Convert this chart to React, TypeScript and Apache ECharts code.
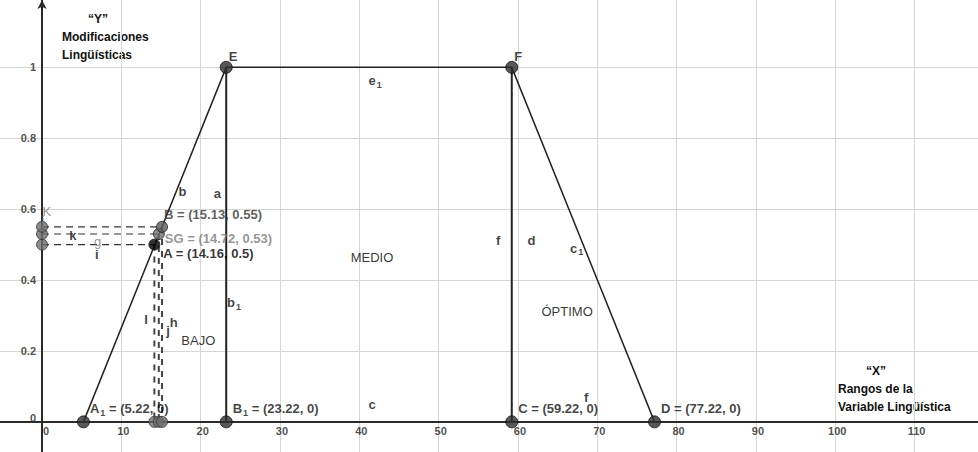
import React, { useEffect, useRef } from "react";
import * as echarts from "echarts";

// Trapezoid membership function (MEDIO) vertices
const trapezoidX = [5.22, 23.22, 59.22, 77.22];
const trapezoidY = [0, 1, 1, 0];

// Vertical segments E-B1 and F-C
const verticalX = [23.22, 59.22];
const verticalTop = [1, 1];

// Named vertices
const vertexNames = ["A1", "B1", "C", "D", "E", "F"];
const vertexX = [5.22, 23.22, 59.22, 77.22, 23.22, 59.22];
const vertexY = [0, 0, 0, 0, 1, 1];

// Evaluated points
const fuzzyNames = ["A", "SG", "B"];
const fuzzyX = [14.16, 14.72, 15.13];
const fuzzyY = [0.5, 0.53, 0.55];

// Segment / object labels
const segNames = ["e1", "b", "a", "b1", "f", "d", "c1", "c", "f", "I", "j", "h", "k", "i"];
const segX = [42.0, 17.7, 22.1, 24.2, 57.5, 61.7, 67.4, 41.6, 68.6, 13.1, 15.9, 16.6, 3.9, 6.9];
const segY = [0.962, 0.65, 0.644, 0.336, 0.511, 0.511, 0.49, 0.048, 0.07, 0.288, 0.258, 0.28, 0.527, 0.472];

const faintNames = ["K", "j", "g"];
const faintX = [0.6, 0.1, 7.0];
const faintY = [0.594, 0.567, 0.51];

// Region names
const regionNames = ["BAJO", "MEDIO", "ÓPTIMO"];
const regionX = [19.7, 41.6, 66.2];
const regionY = [0.229, 0.463, 0.311];

// Tick labels
const xTickValues = [0, 10, 20, 30, 40, 50, 60, 70, 80, 90, 100, 110];
const yTickValues = [0, 0.2, 0.4, 0.6, 0.8, 1];
const yTickLabels = ["0", "0.2", "0.4", "0.6", "0.8", "1"];

const FONT = "'Liberation Sans', Arial, sans-serif";

function richName(name: string): string {
  const m = name.match(/^([A-Za-z]+)(\d)$/);
  return m ? `{t|${m[1]}}{s|${m[2]}}` : `{t|${name}}`;
}

export default function App() {
  const ref = useRef<HTMLDivElement>(null);
  useEffect(() => {
    if (!ref.current) return;
    const chart = echarts.init(ref.current, null, { renderer: "svg" });

    const dashH = fuzzyX.map((x, i) => ({
      type: "line",
      data: [[0, fuzzyY[i]], [x, fuzzyY[i]]],
      symbol: "none",
      lineStyle: { color: "#333", width: 1.2, type: [7, 5] },
      z: 3,
      silent: true,
    }));
    const dashV = fuzzyX.map((x, i) => ({
      type: "line",
      data: [[x, fuzzyY[i]], [x, 0]],
      symbol: "none",
      lineStyle: { color: "#444", width: 2, type: [6, 6] },
      z: 3,
      silent: true,
    }));
    const verticals = verticalX.map((x, i) => ({
      type: "line",
      data: [[x, verticalTop[i]], [x, 0]],
      symbol: "none",
      lineStyle: { color: "#222", width: 2 },
      z: 4,
      silent: true,
    }));

    const richBase = (color: string, size: number) => ({
      t: { fontSize: size, fontWeight: "bold", color, fontFamily: FONT, lineHeight: 17 },
      s: { fontSize: 9, fontWeight: "bold", color, fontFamily: FONT, verticalAlign: "bottom", padding: [0, 0, 0, 1] },
    });

    const vertexData = vertexNames.map((n, i) => {
      const top = vertexY[i] === 1;
      return {
        value: [vertexX[i], vertexY[i]],
        label: {
          show: true,
          position: "right",
          distance: 0,
          offset: top ? [-4, -11] : [0, -13],
          formatter: top
            ? richName(n)
            : `${richName(n)}{t| = (${vertexX[i]}, ${vertexY[i]})}`,
          rich: richBase("#111", 13),
        },
      };
    });

    const fuzzyColors = ["#000", "#6e6e6e", "#5a5a5a"];
    const labelColors = ["#000", "#7a7a7a", "#333"];
    const fuzzyOffsets = [[3, 9], [0, 5], [-4, -12]];
    const fuzzyData = fuzzyNames.map((n, i) => ({
      value: [fuzzyX[i], fuzzyY[i]],
      itemStyle: { color: fuzzyColors[i], borderColor: "#222", borderWidth: 1 },
      label: {
        show: true,
        position: "right",
        distance: 0,
        offset: fuzzyOffsets[i],
        formatter: `{t|${n} = (${fuzzyX[i]}, ${fuzzyY[i]})}`,
        rich: richBase(labelColors[i], 13),
      },
    }));

    const projData = [
      ...fuzzyY.map((y) => [0, y]),
      ...fuzzyX.map((x) => [x, 0]),
    ];

    const segData = segNames.map((n, i) => ({
      value: [segX[i], segY[i]],
      label: {
        show: true,
        position: "inside",
        formatter: richName(n),
        rich: richBase("#111", 13),
      },
    }));
    const faintData = faintNames.map((n, i) => ({
      value: [faintX[i], faintY[i]],
      label: {
        show: true,
        position: "inside",
        formatter: n,
        color: "#7a7a7a",
        fontSize: 13,
        fontFamily: FONT,
      },
    }));
    const regionData = regionNames.map((n, i) => ({
      value: [regionX[i], regionY[i]],
      label: {
        show: true,
        position: "inside",
        formatter: n,
        color: "#000",
        fontSize: 13,
        fontFamily: FONT,
      },
    }));

    const tickFont = { color: "#222", fontSize: 11, fontWeight: "bold", fontFamily: FONT };
    const xTickData = xTickValues.map((v) => ({
      value: [v, 0],
      label: {
        show: true,
        position: "bottom",
        distance: 4,
        offset: [v === 0 ? 4 : 2, 0],
        formatter: String(v),
        ...tickFont,
      },
    }));
    const yTickData = yTickValues.map((v, i) => ({
      value: [0, v],
      label: {
        show: true,
        position: "left",
        distance: 6,
        offset: [0, v === 0 ? -4 : 0],
        formatter: yTickLabels[i],
        ...tickFont,
      },
    }));

    const titleStyle = { fontSize: 12, fontWeight: "bold", fill: "#111", fontFamily: FONT };

    chart.setOption({
      animation: false,
      backgroundColor: "#fff",
      grid: { left: 0, right: 0, top: 0, bottom: 0, containLabel: false, outerBoundsMode: "none" },
      xAxis: {
        type: "value",
        min: -5.3,
        max: 118,
        splitNumber: 12,
        minInterval: 10,
        maxInterval: 10,
        axisLine: { onZero: true, lineStyle: { color: "#2a2a2a", width: 2 } },
        axisTick: { show: false },
        axisLabel: { show: false },
        splitLine: { show: true, showMinLine: false, showMaxLine: false, lineStyle: { color: "#d6d6d6", width: 1 } },
      },
      yAxis: {
        type: "value",
        min: -0.085,
        max: 1.19,
        splitNumber: 6,
        minInterval: 0.2,
        maxInterval: 0.2,
        axisLine: {
          onZero: true,
          symbol: ["none", "arrow"],
          symbolSize: [7, 9],
          lineStyle: { color: "#2a2a2a", width: 2 },
        },
        axisTick: { show: false },
        axisLabel: { show: false },
        splitLine: { show: true, showMinLine: false, showMaxLine: false, lineStyle: { color: "#d6d6d6", width: 1 } },
      },
      series: [
        {
          type: "line",
          data: trapezoidX.map((x, i) => [x, trapezoidY[i]]),
          symbol: "none",
          lineStyle: { color: "#222", width: 1.5 },
          z: 4,
          silent: true,
        },
        ...verticals,
        ...dashH,
        ...dashV,
        {
          type: "scatter",
          data: projData,
          symbolSize: 11,
          itemStyle: { color: "#6e6e6e", borderColor: "#333", borderWidth: 1 },
          z: 5,
          silent: true,
        },
        {
          type: "scatter",
          data: vertexData,
          symbolSize: 12,
          itemStyle: { color: "#2e2e2e", borderColor: "#111", borderWidth: 1 },
          z: 6,
          silent: true,
        },
        {
          type: "scatter",
          data: fuzzyData,
          symbolSize: 11,
          z: 6,
          silent: true,
        },
        {
          type: "scatter",
          data: [...segData, ...faintData, ...regionData, ...xTickData, ...yTickData],
          symbolSize: 0,
          z: 7,
          silent: true,
        },
      ],
      graphic: [
        { type: "text", left: 88, top: 13, style: { ...titleStyle, text: "“Y”" } },
        { type: "text", left: 62, top: 31, style: { ...titleStyle, text: "Modificaciones" } },
        { type: "text", left: 62, top: 49, style: { ...titleStyle, text: "Lingüísticas" } },
        { type: "text", left: 866, top: 365, style: { ...titleStyle, text: "“X”" } },
        { type: "text", left: 838, top: 383, style: { ...titleStyle, text: "Rangos de la" } },
        { type: "text", left: 838, top: 401, style: { ...titleStyle, text: "Variable Lingüística" } },
      ],
    });
    return () => chart.dispose();
  }, []);
  return (
    <div
      ref={ref}
      style={{ position: "absolute", left: 0, top: 0, width: 978, height: 452, background: "#fff" }}
    />
  );
}
